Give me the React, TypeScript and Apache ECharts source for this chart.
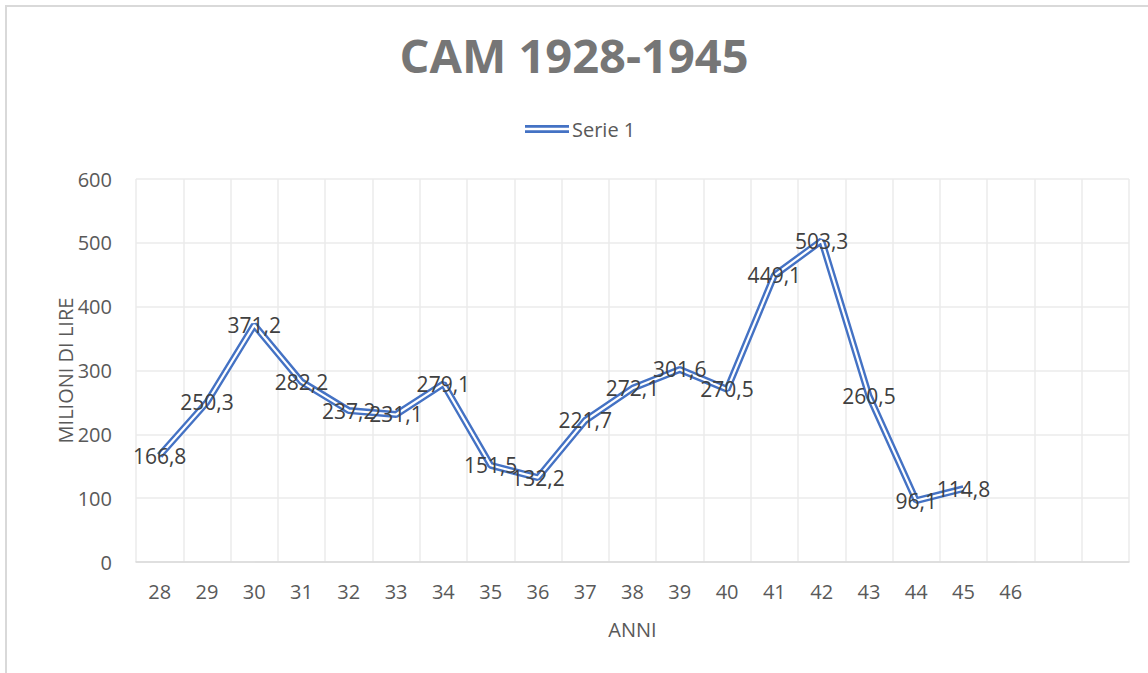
import React, { useEffect, useRef } from "react";
import * as echarts from "echarts";

const categories = ["28", "29", "30", "31", "32", "33", "34", "35", "36", "37", "38", "39", "40", "41", "42", "43", "44", "45", "46", "", ""];
const serie1 = [166.8, 250.3, 371.2, 282.2, 237.2, 231.1, 279.1, 151.5, 132.2, 221.7, 272.1, 301.6, 270.5, 449.1, 503.3, 260.5, 96.1, 114.8, null, null, null];
const yTicks = { min: 0, max: 600, interval: 100 };

const FONT = "'Open Sans', 'Noto Sans', sans-serif";

export default function App() {
  const ref = useRef<HTMLDivElement>(null);
  useEffect(() => {
    if (!ref.current) return;
    const chart = echarts.init(ref.current, undefined, { renderer: "svg" });
    chart.setOption({
      animation: false,
      backgroundColor: "#ffffff",
      title: {
        text: "CAM 1928-1945",
        left: "center",
        top: 26,
        padding: [5, 5, 5, 19],
        textStyle: { fontFamily: FONT, fontWeight: "bold", fontSize: 47, color: "#767676" },
      },
      legend: {
        top: 114,
        left: 520,
        data: [{ name: "Serie 1", itemStyle: { color: "#4472C4" } }],
        icon: "path://M0,0 H50 V3 H0 Z M0,6 H50 V9 H0 Z",
        itemWidth: 44,
        itemHeight: 9,
        itemGap: 4,
        textStyle: { fontFamily: FONT, fontSize: 20, color: "#595959", padding: [0, 0, 0, -2] },
      },
      grid: { left: 136, right: 19, top: 179, bottom: 111, containLabel: false },
      xAxis: {
        type: "category",
        data: categories,
        boundaryGap: true,
        name: "ANNI",
        nameLocation: "middle",
        nameGap: 57,
        nameMoveOverlap: false,
        nameTextStyle: { fontFamily: FONT, fontSize: 20, color: "#595959" },
        axisLine: { show: true, lineStyle: { color: "#D9D9D9", width: 1.5 } },
        axisTick: { show: false },
        axisLabel: { interval: 0, margin: 19, fontFamily: FONT, fontSize: 20, color: "#595959" },
        splitLine: { show: true, interval: 0, lineStyle: { color: "#EBEBEB", width: 1.5 } },
      },
      yAxis: {
        type: "value",
        min: yTicks.min,
        max: yTicks.max,
        interval: yTicks.interval,
        name: "MILIONI DI LIRE",
        nameLocation: "middle",
        nameRotate: 90,
        nameGap: 61,
        nameMoveOverlap: false,
        nameTextStyle: { fontFamily: FONT, fontSize: 20, color: "#595959" },
        axisLine: { show: false },
        axisTick: { show: false },
        axisLabel: { margin: 24, fontFamily: FONT, fontSize: 20, color: "#595959" },
        splitLine: { show: true, lineStyle: { color: "#EBEBEB", width: 1.5 } },
      },
      series: [
        {
          name: "Serie 1",
          type: "line",
          data: serie1,
          symbol: "circle",
          symbolSize: 0.1,
          showSymbol: true,
          itemStyle: { color: "#4472C4" },
          lineStyle: { color: "#4472C4", width: 7 },
          z: 2,
        },
        {
          name: "inner",
          type: "line",
          data: serie1,
          symbol: "circle",
          symbolSize: 0.1,
          showSymbol: true,
          itemStyle: { color: "rgba(0,0,0,0)" },
          lineStyle: { color: "#ffffff", width: 2.2 },
          z: 3,
          label: {
            show: true,
            position: "inside",
            fontFamily: FONT,
            fontSize: 21,
            color: "#404040",
            formatter: (p: any) => String(p.value).replace(".", ","),
          },
        },
      ],
    });
    return () => chart.dispose();
  }, []);
  return (
    <div style={{ position: "absolute", left: 0, top: 0, width: 1148, height: 673, overflow: "hidden", background: "#fff" }}>
      <div ref={ref} style={{ position: "absolute", left: 0, top: 0, width: 1148, height: 673 }} />
      <div
        style={{
          position: "absolute",
          left: 5,
          top: 5,
          width: 1200,
          height: 700,
          borderLeft: "2px solid #D9D9D9",
          borderTop: "2px solid #D9D9D9",
          pointerEvents: "none",
        }}
      />
    </div>
  );
}
